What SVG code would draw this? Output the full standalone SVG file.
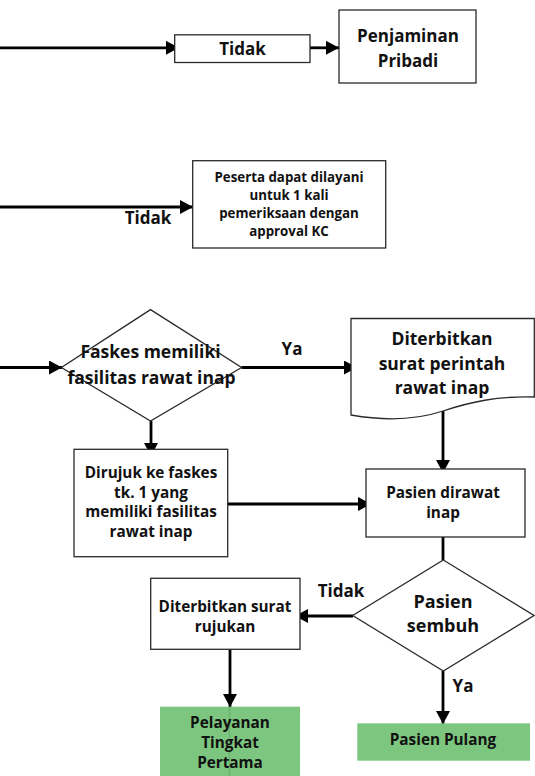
<svg xmlns="http://www.w3.org/2000/svg" width="535" height="776" viewBox="0 0 535 776">
  <defs>
    <marker id="arrow" markerUnits="userSpaceOnUse" markerWidth="14" markerHeight="15" refX="13" refY="7" orient="auto">
      <path d="M0,0 L13,7 L0,14 Z" fill="#000"/>
    </marker>
    <style>
      .box { fill: #fff; stroke: #2a2a2a; stroke-width: 1.3; }
      .green { fill: #7dc67f; stroke: none; }
      .conn { fill: none; stroke: #000; stroke-width: 2.8; }
      .arr { marker-end: url(#arrow); }
      text { font-family: "Open Sans", "Liberation Sans", sans-serif; font-weight: 750; fill: #111; text-anchor: middle; }
      .t17 { font-size: 17px; }
      .t175 { font-size: 17.5px; }
      .t15 { font-size: 15.3px; }
      .t13 { font-size: 13.3px; }
      .t18 { font-size: 18px; }
    </style>
  </defs>
  <rect width="535" height="776" fill="#fff"/>

  <!-- connectors -->
  <g id="connectors">
    <line class="conn arr" x1="0" y1="47.8" x2="179" y2="47.8"/>
    <line class="conn arr" x1="310" y1="47.8" x2="339" y2="47.8"/>
    <line class="conn arr" x1="0" y1="207" x2="193" y2="207"/>
    <line class="conn arr" x1="0" y1="367.5" x2="62" y2="367.5"/>
    <line class="conn arr" x1="241.6" y1="367.5" x2="357" y2="367.5"/>
    <line class="conn arr" x1="151" y1="421" x2="151" y2="456"/>
    <line class="conn arr" x1="443" y1="410" x2="443" y2="473"/>
    <line class="conn arr" x1="228" y1="504" x2="371" y2="504"/>
    <line class="conn" x1="443" y1="537" x2="443" y2="560"/>
    <line class="conn arr" x1="353" y1="616" x2="295" y2="616"/>
    <line class="conn arr" x1="230" y1="649" x2="230" y2="707"/>
    <line class="conn arr" x1="443" y1="671" x2="443" y2="724"/>
  </g>

  <!-- decision label: Tidak on the top row -->
  <g id="tidak-1">
    <rect class="box" x="174.7" y="34.8" width="135.3" height="27.7"/>
    <text class="t17" x="242.5" y="54.5">Tidak</text>
  </g>

  <g id="penjaminan">
    <rect class="box" x="339" y="10" width="137" height="73"/>
    <text class="t17" x="408" y="41.5">Penjaminan</text>
    <text class="t17" x="408" y="66.5">Pribadi</text>
  </g>

  <g id="label-tidak-2">
    <text class="t17" x="148" y="224">Tidak</text>
  </g>

  <g id="peserta">
    <rect class="box" x="192.7" y="160.7" width="193" height="87.3"/>
    <text class="t13" x="289" y="182">Peserta dapat dilayani</text>
    <text class="t13" x="289" y="200">untuk 1 kali</text>
    <text class="t13" x="289" y="218">pemeriksaan dengan</text>
    <text class="t13" x="289" y="235.5">approval KC</text>
  </g>

  <g id="faskes">
    <polygon class="box" points="150.5,309.6 241.6,367.5 150.5,421 61.4,367.5"/>
    <text class="t175" x="150.5" y="358">Faskes memiliki</text>
    <text class="t175" x="151.5" y="384">fasilitas rawat inap</text>
  </g>

  <g id="label-ya-1">
    <text class="t17" x="292" y="354.5">Ya</text>
  </g>

  <g id="surat-perintah">
    <path class="box" d="M351,318.5 L534.3,318.5 L534.3,397 C497,396 470,402 443,411 C416,420 385,421 351,415 Z"/>
    <text class="t175" x="442" y="345">Diterbitkan</text>
    <text class="t175" x="442" y="369.5">surat perintah</text>
    <text class="t175" x="442" y="394">rawat inap</text>
  </g>

  <g id="dirujuk">
    <rect class="box" x="74" y="449.3" width="153.7" height="107.4"/>
    <text class="t15" x="151" y="478">Dirujuk ke faskes</text>
    <text class="t15" x="151" y="497.5">tk. 1 yang</text>
    <text class="t15" x="151" y="517">memiliki fasilitas</text>
    <text class="t15" x="151" y="536.5">rawat inap</text>
  </g>

  <g id="dirawat">
    <rect class="box" x="366" y="469" width="159" height="68"/>
    <text class="t15" x="443" y="498">Pasien dirawat</text>
    <text class="t15" x="443" y="517.5">inap</text>
  </g>

  <g id="sembuh">
    <polygon class="box" points="443.3,560 534,615.5 443.3,671 352.7,615.5"/>
    <text class="t18" x="443" y="608">Pasien</text>
    <text class="t18" x="443" y="631.5">sembuh</text>
  </g>

  <g id="label-tidak-3">
    <text class="t17" x="341" y="596.5">Tidak</text>
  </g>

  <g id="rujukan">
    <rect class="box" x="150.7" y="578.3" width="149.3" height="71"/>
    <text class="t15" x="225" y="611.5">Diterbitkan surat</text>
    <text class="t15" x="225" y="631.5">rujukan</text>
  </g>

  <g id="label-ya-2">
    <text class="t17" x="463" y="691.5">Ya</text>
  </g>

  <g id="pelayanan">
    <rect class="green" x="160" y="706.7" width="140" height="69.3"/>
    <line x1="229.5" y1="706.7" x2="229.5" y2="776" stroke="#5a9c5c" stroke-width="1.5" opacity="0.45"/>
    <text class="t15" x="230" y="728">Pelayanan</text>
    <text class="t15" x="230" y="748">Tingkat</text>
    <text class="t15" x="230" y="768">Pertama</text>
  </g>

  <g id="pulang">
    <rect class="green" x="357.3" y="723.3" width="172.7" height="37.4"/>
    <text class="t15" x="443" y="745">Pasien Pulang</text>
  </g>
</svg>
